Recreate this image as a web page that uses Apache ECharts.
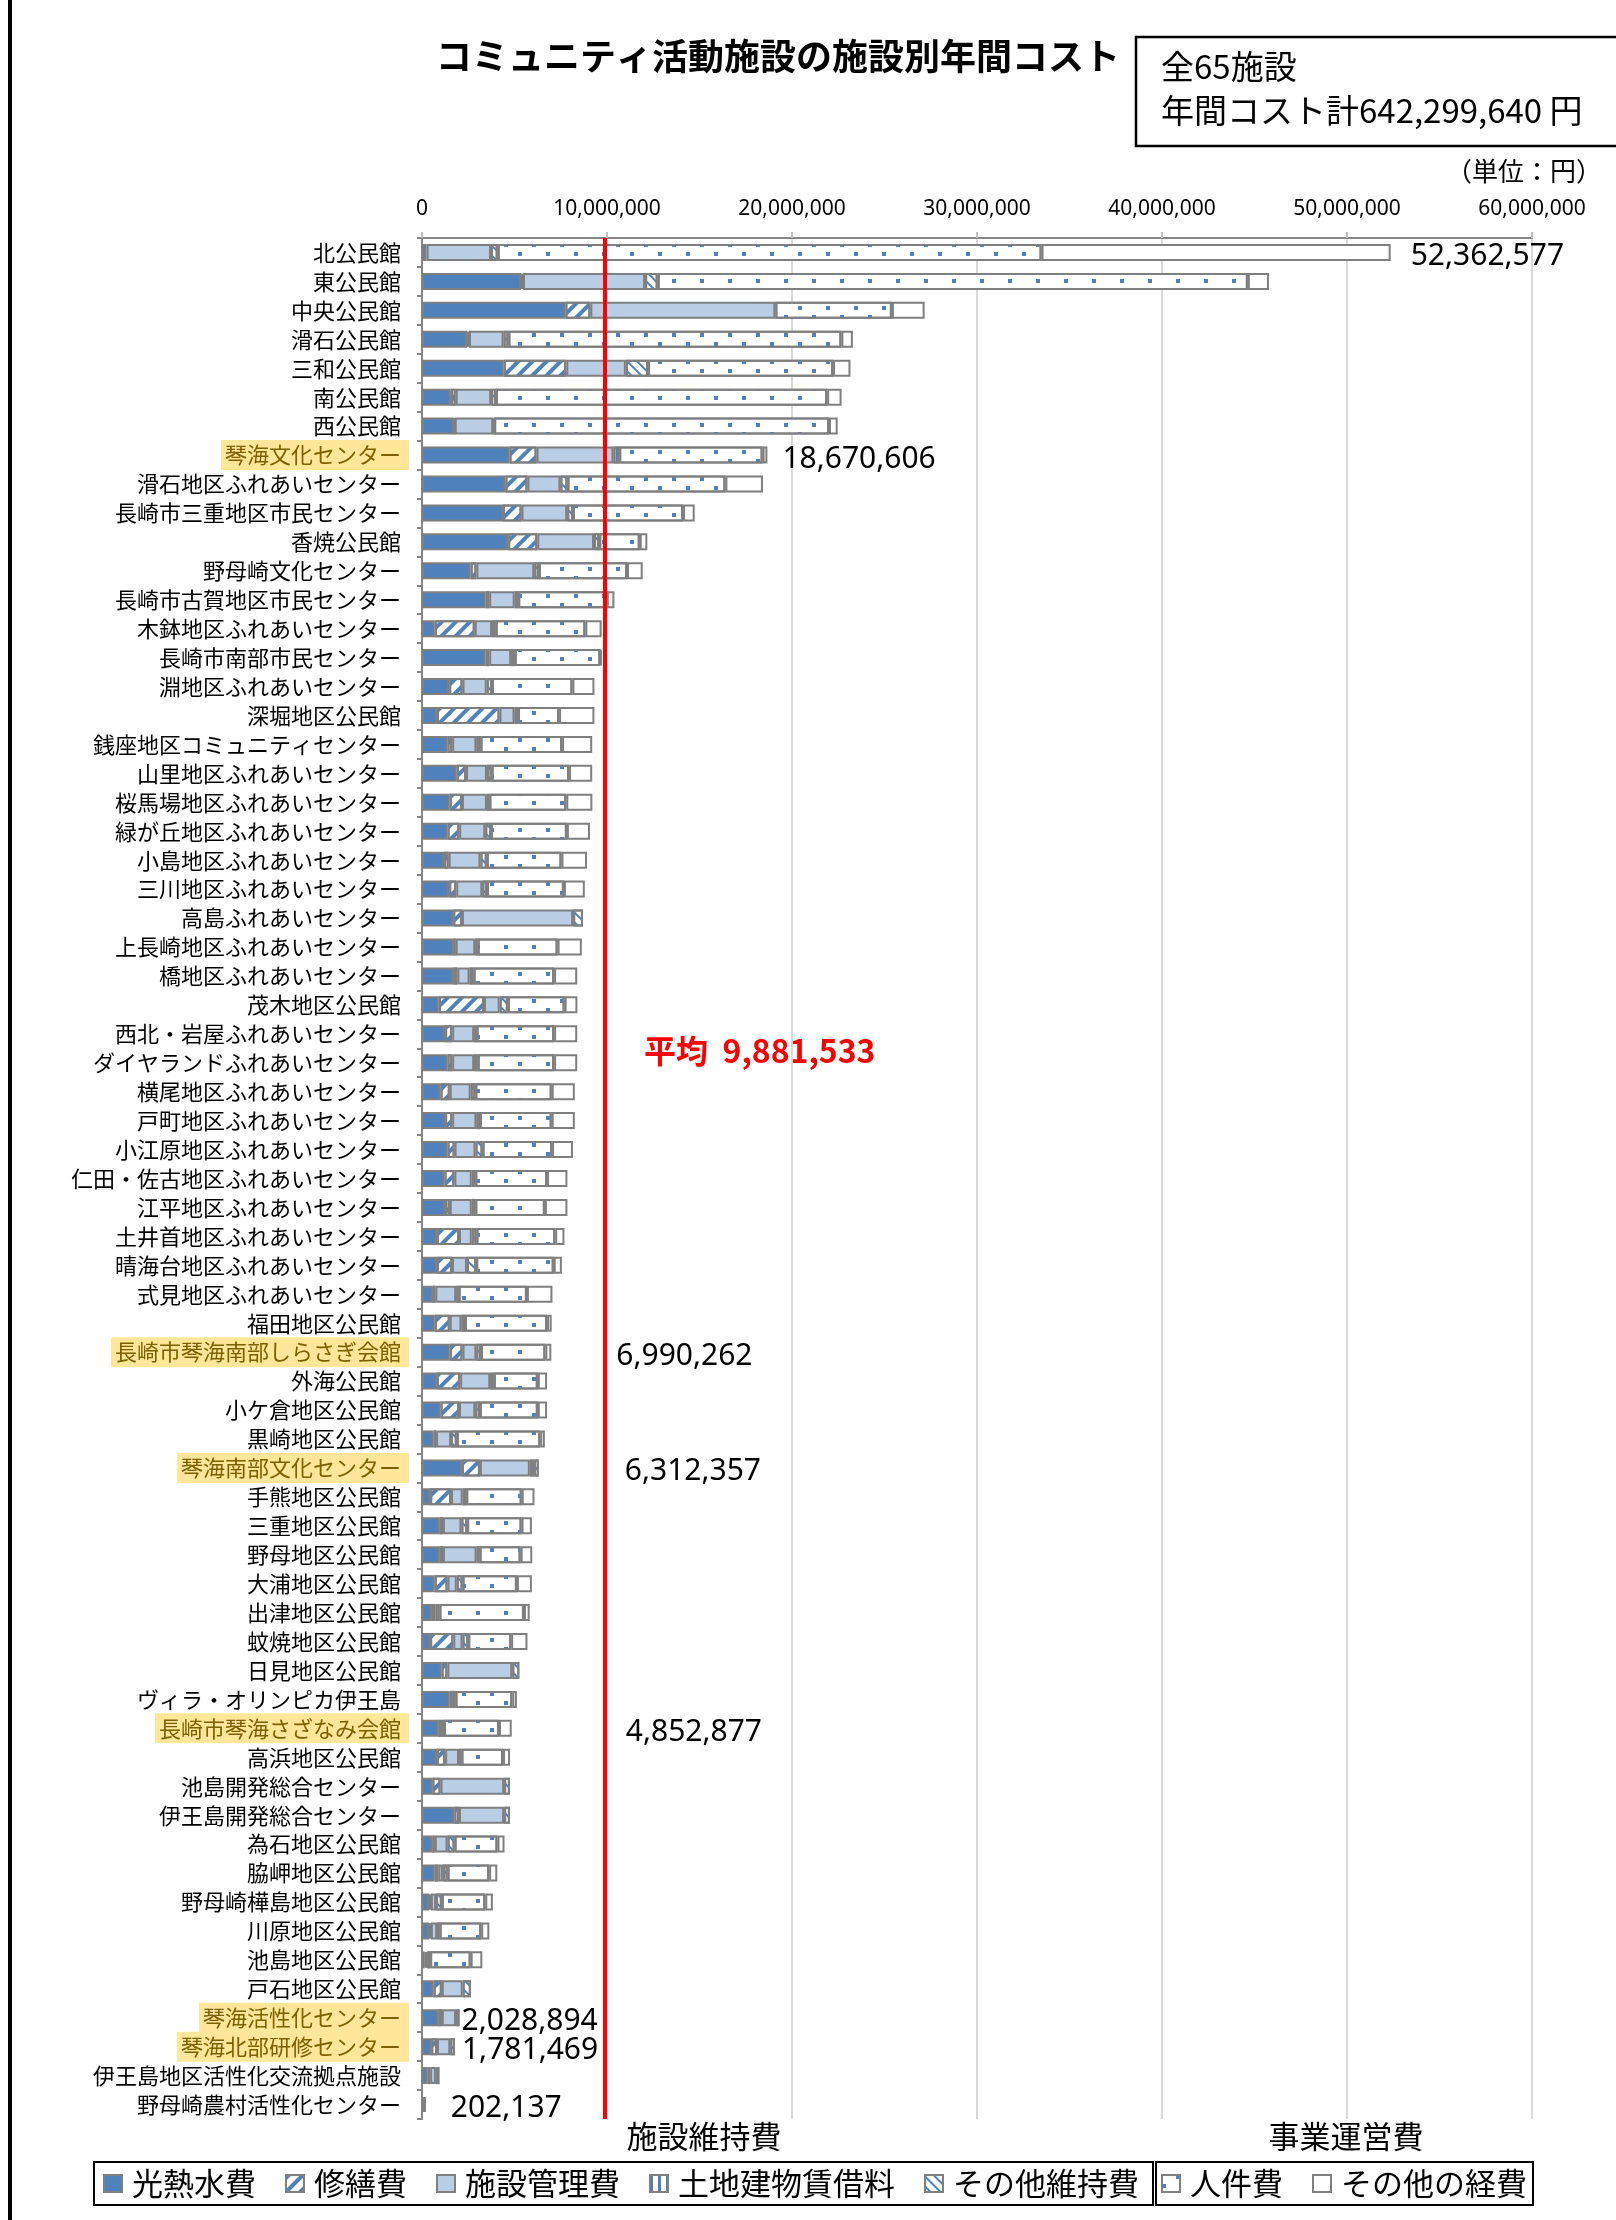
<!DOCTYPE html>
<html><head><meta charset="utf-8">
<script src="https://cdn.jsdelivr.net/npm/echarts@6/dist/echarts.min.js"></script>
<style>html,body{margin:0;padding:0;background:#fff}#c{width:1616px;height:2220px}</style>
</head><body><div id="c"></div>
<script>
// ---- DATA (values in million yen) ----
const facilities = ['北公民館','東公民館','中央公民館','滑石公民館','三和公民館','南公民館','西公民館','琴海文化センター','滑石地区ふれあいセンター','長崎市三重地区市民センター',
'香焼公民館','野母崎文化センター','長崎市古賀地区市民センター','木鉢地区ふれあいセンター','長崎市南部市民センター','淵地区ふれあいセンター','深堀地区公民館','銭座地区コミュニティセンター','山里地区ふれあいセンター','桜馬場地区ふれあいセンター',
'緑が丘地区ふれあいセンター','小島地区ふれあいセンター','三川地区ふれあいセンター','高島ふれあいセンター','上長崎地区ふれあいセンター','橋地区ふれあいセンター','茂木地区公民館','西北・岩屋ふれあいセンター','ダイヤランドふれあいセンター','横尾地区ふれあいセンター',
'戸町地区ふれあいセンター','小江原地区ふれあいセンター','仁田・佐古地区ふれあいセンター','江平地区ふれあいセンター','土井首地区ふれあいセンター','晴海台地区ふれあいセンター','式見地区ふれあいセンター','福田地区公民館','長崎市琴海南部しらさぎ会館','外海公民館',
'小ケ倉地区公民館','黒崎地区公民館','琴海南部文化センター','手熊地区公民館','三重地区公民館','野母地区公民館','大浦地区公民館','出津地区公民館','蚊焼地区公民館','日見地区公民館',
'ヴィラ・オリンピカ伊王島','長崎市琴海さざなみ会館','高浜地区公民館','池島開発総合センター','伊王島開発総合センター','為石地区公民館','脇岬地区公民館','野母崎樺島地区公民館','川原地区公民館','池島地区公民館',
'戸石地区公民館','琴海活性化センター','琴海北部研修センター','伊王島地区活性化交流拠点施設','野母崎農村活性化センター'];

const utilities = [0.25,5.36,7.75,2.44,4.42,1.56,1.72,4.73,4.51,4.38,
4.66,2.63,3.44,0.69,3.44,1.47,0.81,1.38,1.88,1.5,
1.38,1.19,1.47,1.69,1.69,1.69,0.91,1.25,1.38,1.0,
1.25,1.38,1.22,1.25,0.81,0.81,0.59,0.69,1.5,0.81,
1.0,0.63,2.16,0.44,0.94,0.94,0.69,0.5,0.44,1.06,
1.5,0.88,0.81,0.56,1.75,0.56,0.69,0.38,0.38,0.15,
0.63,0.88,0.5,0.31,0];
const repairs = [0,0.1,1.35,0.1,3.38,0.26,0.05,1.46,1.19,1.0,
1.57,0.31,0.19,2.16,0.19,0.72,3.38,0.25,0.5,0.66,
0.63,0.25,0.38,0.47,0.13,0.22,2.44,0.38,0.25,0.5,
0.38,0.38,0.53,0.25,1.19,0.81,0.13,0.81,0.69,1.25,
1.0,0.13,0.97,1.13,0.19,0.19,0.69,0.22,1.25,0.31,
0.15,0.15,0.44,0.44,0.25,0.13,0.19,0.1,0.1,0.1,
0.44,0.19,0.31,0.13,0];
const management = [3.48,6.6,10.0,1.87,3.22,1.92,2.08,4.16,1.78,2.47,
3.07,3.13,1.38,0.94,1.19,1.31,0.81,1.31,1.13,1.35,
1.41,1.72,1.41,6.01,1.06,0.66,0.85,1.19,1.19,1.13,
1.31,1.13,0.94,1.19,0.69,0.81,1.13,0.63,0.75,1.63,
0.88,0.81,2.7,0.63,1.0,1.82,0.5,0.22,0.5,3.51,
0,0,0.75,3.44,2.44,0.69,0.25,0.28,0.34,0.05,
1.13,0.77,0.72,0.31,0.1];
const rent = [0,0,0,0,0,0,0,0.31,0,0,
0,0,0,0,0,0,0,0,0,0,
0,0,0,0,0,0,0,0,0,0,
0,0,0,0,0,0,0,0,0,0,
0,0,0.22,0,0,0,0,0,0,0,
0,0,0,0,0,0,0,0,0,0,
0,0,0,0,0];
const otherMaint = [0.36,0.68,0,0.26,1.2,0.26,0.05,0,0.38,0.31,
0.28,0.25,0.19,0.19,0.19,0.28,0.19,0.22,0.25,0.13,
0.31,0.34,0.25,0.53,0.13,0.22,0.44,0.13,0.19,0.25,
0.19,0.38,0.19,0.19,0.25,0.5,0.13,0.19,0.25,0.19,
0.25,0.31,0.26,0.19,0.31,0.16,0.31,0,0.31,0.38,
0.16,0.16,0.13,0.31,0.31,0.38,0.25,0.31,0.13,0.14,
0.44,0.19,0.25,0.19,0.102];
const personnel = [29.4,31.9,6.3,18.0,10.0,17.9,18.1,7.751,8.54,5.95,
2.19,4.76,4.79,4.85,4.63,4.35,2.22,4.41,4.19,4.16,
4.1,4.04,4.16,0,4.32,4.35,3.07,4.19,4.13,4.13,
3.88,3.76,3.88,3.76,4.26,4.19,3.69,4.44,3.48,2.38,
3.13,4.51,0,3.0,2.94,2.22,2.94,4.57,2.32,0,
3.07,2.97,2.25,0,0,2.32,2.25,2.35,2.25,2.19,
0,0,0,0,0];
const otherExpenses = [18.87,1.14,1.77,0.62,0.94,0.78,0.47,0.26,2.03,0.63,
0.41,0.85,0.41,0.88,0.06,1.19,1.91,1.63,1.25,1.41,
1.25,1.38,1.13,0,1.31,1.25,0.69,1.25,1.25,1.25,
1.25,1.13,1.1,1.22,0.5,0.44,1.38,0.25,0.32,0.5,
0.5,0.25,0,0.69,0.56,0.63,0.81,0.31,0.88,0,
0.25,0.69,0.38,0,0,0.38,0.44,0.41,0.44,0.63,
0,0,0,0,0];

const labeledFacilities = ['北公民館','琴海文化センター','長崎市琴海南部しらさぎ会館','琴海南部文化センター','長崎市琴海さざなみ会館','琴海活性化センター','琴海北部研修センター','野母崎農村活性化センター'];
const labeledTotals = [52362577,18670606,6990262,6312357,4852877,2028894,1781469,202137];
const labelGaps = [20,15,65,86,114,2,7,25];
const highlighted = ['琴海文化センター','長崎市琴海南部しらさぎ会館','琴海南部文化センター','長崎市琴海さざなみ会館','琴海活性化センター','琴海北部研修センター'];
const averageCost = 9881533;
const xTicks = [0,10000000,20000000,30000000,40000000,50000000,60000000];

// ---- STYLE ----
const CJK = '"Noto Sans CJK JP", sans-serif';
const NUM = '"Noto Sans", sans-serif';
const BLUE = '#4F81BD', LIGHT = '#B9CDE5', EDGE = '#7F7F7F';
const toYen = arr => arr.map(v => v > 0 ? Math.round(v * 1e6) : '-');

function stackSeries(name, arr, itemStyle, extra) {
  return Object.assign({
    name, type: 'bar', stack: 'cost', barWidth: 17, data: toYen(arr),
    itemStyle: Object.assign({ borderColor: EDGE, borderWidth: 2 }, itemStyle)
  }, extra || {});
}

const series = [
  stackSeries('光熱水費', utilities, { color: BLUE }, {
    markLine: {
      silent: true, symbol: ['none', 'none'], label: { show: false },
      lineStyle: { color: '#FF0000', width: 4, type: 'solid' },
      data: [{ xAxis: averageCost }]
    }
  }),
  stackSeries('修繕費', repairs, { color: '#fff', decal: { symbol: 'rect', symbolSize: 1, symbolKeepAspect: false, color: BLUE, dashArrayX: [1, 0], dashArrayY: [4, 6], rotation: -Math.PI / 4 } }),
  stackSeries('施設管理費', management, { color: LIGHT }),
  stackSeries('土地建物賃借料', rent, { color: '#fff', decal: { symbol: 'rect', symbolSize: 1, symbolKeepAspect: false, color: BLUE, dashArrayX: [[3, 5]], dashArrayY: [1, 0], rotation: 0 } }),
  stackSeries('その他維持費', otherMaint, { color: '#fff', decal: { symbol: 'rect', symbolSize: 1, symbolKeepAspect: false, color: BLUE, dashArrayX: [1, 0], dashArrayY: [2, 5], rotation: Math.PI / 4 } }),
  stackSeries('人件費', personnel, { color: '#fff', decal: { symbol: 'rect', symbolSize: 1, symbolKeepAspect: false, color: BLUE, dashArrayX: [[4, 24], [0, 14, 4, 10]], dashArrayY: [4, 5], rotation: 0 } }),
  stackSeries('その他の経費', otherExpenses, { color: '#fff' }),
  {
    name: '合計', type: 'bar', barWidth: 17, barGap: '-100%', silent: true, z: 5,
    itemStyle: { color: 'rgba(0,0,0,0)' },
    data: facilities.map(f => {
      const i = labeledFacilities.indexOf(f);
      if (i < 0) return '-';
      return { value: labeledTotals[i], label: { distance: labelGaps[i] } };
    }),
    label: {
      show: true, position: 'right', offset: [0, 4], fontSize: 30, fontFamily: NUM, color: '#000',
      formatter: p => Number(p.value).toLocaleString('en-US')
    }
  }
];

const legendCommon = {
  orient: 'horizontal', icon: 'rect', itemWidth: 18, itemHeight: 17, itemGap: 29,
  borderColor: '#000', borderWidth: 2, selectedMode: false, top: 2162,
  textStyle: { fontSize: 31, fontFamily: CJK, color: '#000', padding: [0, 0, 0, 5] }
};

const option = {
  animation: false,
  backgroundColor: '#fff',
  title: {
    text: 'コミュニティ活動施設の施設別年間コスト', left: 436, top: 38, padding: 0,
    textStyle: { fontSize: 36, fontWeight: 'bold', fontFamily: CJK, color: '#000' }
  },
  legend: [
    Object.assign({}, legendCommon, { data: ['光熱水費', '修繕費', '施設管理費', '土地建物賃借料', 'その他維持費'], left: 94, padding: [6, 14, 6, 9] }),
    Object.assign({}, legendCommon, { data: ['人件費', 'その他の経費'], left: 1156, padding: [6, 6, 6, 5] })
  ],
  grid: { left: 422, right: 84, top: 238, bottom: 101, containLabel: false },
  xAxis: {
    type: 'value', position: 'top', min: xTicks[0], max: xTicks[xTicks.length - 1], interval: xTicks[1] - xTicks[0],
    axisLine: { show: true, lineStyle: { color: '#868686', width: 2 } },
    axisTick: { show: true, length: 6, lineStyle: { color: '#BFBFBF', width: 2 } },
    axisLabel: { fontSize: 21, fontFamily: NUM, color: '#000', margin: 18, formatter: v => Number(v).toLocaleString('en-US') },
    splitLine: { show: true, lineStyle: { color: '#D9D9D9', width: 2 } }
  },
  yAxis: {
    type: 'category', inverse: true, data: facilities,
    axisLine: { show: true, lineStyle: { color: '#868686', width: 2 } },
    axisTick: { show: true, length: 5, lineStyle: { color: '#868686', width: 2 } },
    axisLabel: {
      interval: 0, margin: 13,
      formatter: v => highlighted.includes(v) ? '{h|' + v + '}' : '{n|' + v + '}',
      rich: {
        n: { fontSize: 22, fontFamily: CJK, color: '#000', padding: [4, 8, 4, 4] },
        h: { fontSize: 22, fontFamily: CJK, color: '#7F6000', backgroundColor: '#FFE699', padding: [4, 8, 4, 4] }
      }
    }
  },
  series,
  graphic: [
    { type: 'rect', shape: { x: 8, y: 0, width: 4, height: 2220 }, style: { fill: '#000' }, silent: true },
    { type: 'rect', shape: { x: 1136, y: 37, width: 500, height: 109 }, style: { fill: '#fff', stroke: '#000', lineWidth: 2.5 }, silent: true },
    { type: 'text', x: 1161, y: 66, style: { text: '全65施設', font: '33px "Noto Sans CJK JP"', fill: '#000', verticalAlign: 'middle' } },
    { type: 'text', x: 1161, y: 110, style: { text: '年間コスト計642,299,640 円', font: '33px "Noto Sans CJK JP"', fill: '#000', verticalAlign: 'middle' } },
    { type: 'text', x: 1602, y: 171, style: { text: '（単位：円）', font: '26px "Noto Sans CJK JP"', fill: '#000', align: 'right', verticalAlign: 'middle' } },
    { type: 'text', x: 644, y: 1051, style: { text: '平均  ' + averageCost.toLocaleString('en-US'), font: 'bold 32px "Noto Sans CJK JP"', fill: '#FF0000', verticalAlign: 'middle' } },
    { type: 'text', x: 704, y: 2136, style: { text: '施設維持費', font: '31px "Noto Sans CJK JP"', fill: '#000', align: 'center', verticalAlign: 'middle' } },
    { type: 'text', x: 1346, y: 2136, style: { text: '事業運営費', font: '31px "Noto Sans CJK JP"', fill: '#000', align: 'center', verticalAlign: 'middle' } }
  ]
};

const chart = echarts.init(document.getElementById('c'), null, { renderer: 'canvas' });
chart.setOption(option);
</script>
</body></html>
